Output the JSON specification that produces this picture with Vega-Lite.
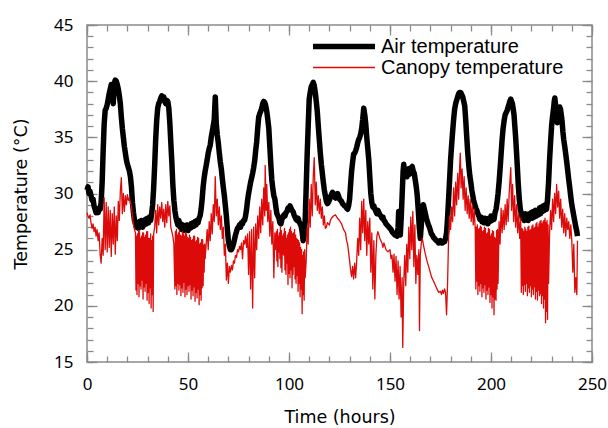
{
"$schema": "https://vega.github.io/schema/vega-lite/v6.json",
"width": 505, "height": 337,
"autosize": {"type": "none"},
"padding": {"left": 87, "top": 25, "right": 16, "bottom": 66},
"background": "white",
"config": {
 "view": {"stroke": "#8a8a8a", "strokeWidth": 1.5},
 "font": "Noto Sans",
 "axis": {"domain": false, "grid": false, "tickColor": "#8a8a8a", "tickWidth": 1.3, "labelColor": "#000", "titleColor": "#000", "labelFont": "Noto Sans", "titleFont": "DejaVu Sans", "labelFontSize": 17, "titleFontSize": 17.5, "titleFontWeight": "normal", "labelFlush": false}
},
"resolve": {"scale": {"x": "independent", "y": "independent"}},
"layer": [
{
 "data": {"values": [
{"t":0,"v":30.3,"s":"A"},{"t":0.5,"v":30.6,"s":"A"},{"t":1,"v":30.0,"s":"A"},{"t":1.5,"v":30.2,"s":"A"},{"t":2,"v":29.8,"s":"A"},{"t":2.5,"v":29.4,"s":"A"},{"t":3,"v":29.5,"s":"A"},{"t":3.5,"v":28.9,"s":"A"},{"t":4,"v":28.6,"s":"A"},{"t":4.5,"v":28.3,"s":"A"},{"t":5,"v":28.5,"s":"A"},{"t":5.5,"v":28.3,"s":"A"},{"t":6,"v":28.7,"s":"A"},{"t":6.5,"v":28.6,"s":"A"},{"t":7,"v":29.2,"s":"A"},{"t":7.5,"v":31.0,"s":"A"},{"t":8,"v":33.8,"s":"A"},{"t":8.5,"v":36.2,"s":"A"},{"t":9,"v":37.4,"s":"A"},{"t":9.5,"v":37.6,"s":"A"},{"t":10,"v":37.9,"s":"A"},{"t":10.5,"v":38.4,"s":"A"},{"t":11,"v":38.9,"s":"A"},{"t":11.5,"v":39.3,"s":"A"},{"t":12,"v":39.7,"s":"A"},{"t":12.5,"v":39.2,"s":"A"},{"t":13,"v":38.0,"s":"A"},{"t":13.5,"v":39.8,"s":"A"},{"t":14,"v":40.1,"s":"A"},{"t":14.5,"v":40.0,"s":"A"},{"t":15,"v":39.7,"s":"A"},{"t":15.5,"v":39.3,"s":"A"},{"t":16,"v":38.7,"s":"A"},{"t":16.5,"v":38.0,"s":"A"},{"t":17,"v":36.8,"s":"A"},{"t":17.5,"v":35.8,"s":"A"},{"t":18,"v":35.0,"s":"A"},{"t":18.5,"v":34.2,"s":"A"},{"t":19,"v":33.6,"s":"A"},{"t":19.5,"v":33.0,"s":"A"},{"t":20,"v":32.6,"s":"A"},{"t":20.5,"v":32.3,"s":"A"},{"t":21,"v":32.0,"s":"A"},{"t":21.5,"v":31.5,"s":"A"},{"t":22,"v":30.6,"s":"A"},{"t":22.5,"v":29.2,"s":"A"},{"t":23,"v":28.3,"s":"A"},{"t":23.5,"v":27.6,"s":"A"},{"t":24,"v":27.3,"s":"A"},{"t":24.5,"v":27.0,"s":"A"},{"t":25,"v":27.4,"s":"A"},{"t":25.5,"v":26.9,"s":"A"},{"t":26,"v":27.5,"s":"A"},{"t":26.5,"v":27.1,"s":"A"},{"t":27,"v":27.6,"s":"A"},{"t":27.5,"v":27.0,"s":"A"},{"t":28,"v":27.5,"s":"A"},{"t":28.5,"v":27.2,"s":"A"},{"t":29,"v":27.7,"s":"A"},{"t":29.5,"v":27.3,"s":"A"},{"t":30,"v":27.8,"s":"A"},{"t":30.5,"v":27.4,"s":"A"},{"t":31,"v":27.9,"s":"A"},{"t":31.5,"v":27.6,"s":"A"},{"t":32,"v":28.2,"s":"A"},{"t":32.5,"v":29.0,"s":"A"},{"t":33,"v":30.5,"s":"A"},{"t":33.5,"v":32.5,"s":"A"},{"t":34,"v":34.8,"s":"A"},{"t":34.5,"v":36.5,"s":"A"},{"t":35,"v":37.6,"s":"A"},{"t":35.5,"v":38.0,"s":"A"},{"t":36,"v":38.2,"s":"A"},{"t":36.5,"v":38.5,"s":"A"},{"t":37,"v":38.7,"s":"A"},{"t":37.5,"v":38.4,"s":"A"},{"t":38,"v":38.6,"s":"A"},{"t":38.5,"v":38.2,"s":"A"},{"t":39,"v":38.0,"s":"A"},{"t":39.5,"v":38.3,"s":"A"},{"t":40,"v":38.2,"s":"A"},{"t":40.5,"v":37.6,"s":"A"},{"t":41,"v":36.3,"s":"A"},{"t":41.5,"v":34.5,"s":"A"},{"t":42,"v":32.8,"s":"A"},{"t":42.5,"v":30.8,"s":"A"},{"t":43,"v":29.4,"s":"A"},{"t":43.5,"v":28.5,"s":"A"},{"t":44,"v":27.9,"s":"A"},{"t":44.5,"v":27.5,"s":"A"},{"t":45,"v":27.2,"s":"A"},{"t":45.5,"v":27.6,"s":"A"},{"t":46,"v":27.0,"s":"A"},{"t":46.5,"v":27.3,"s":"A"},{"t":47,"v":26.8,"s":"A"},{"t":47.5,"v":27.2,"s":"A"},{"t":48,"v":26.7,"s":"A"},{"t":48.5,"v":27.1,"s":"A"},{"t":49,"v":26.8,"s":"A"},{"t":49.5,"v":27.2,"s":"A"},{"t":50,"v":26.7,"s":"A"},{"t":50.5,"v":27.1,"s":"A"},{"t":51,"v":26.9,"s":"A"},{"t":51.5,"v":27.3,"s":"A"},{"t":52,"v":27.0,"s":"A"},{"t":52.5,"v":27.4,"s":"A"},{"t":53,"v":27.1,"s":"A"},{"t":53.5,"v":27.5,"s":"A"},{"t":54,"v":27.2,"s":"A"},{"t":54.5,"v":27.6,"s":"A"},{"t":55,"v":27.4,"s":"A"},{"t":55.5,"v":27.8,"s":"A"},{"t":56,"v":28.0,"s":"A"},{"t":56.5,"v":28.6,"s":"A"},{"t":57,"v":29.5,"s":"A"},{"t":57.5,"v":30.6,"s":"A"},{"t":58,"v":31.4,"s":"A"},{"t":58.5,"v":32.0,"s":"A"},{"t":59,"v":32.5,"s":"A"},{"t":59.5,"v":33.0,"s":"A"},{"t":60,"v":33.6,"s":"A"},{"t":60.5,"v":34.0,"s":"A"},{"t":61,"v":34.3,"s":"A"},{"t":61.5,"v":35.0,"s":"A"},{"t":62,"v":35.5,"s":"A"},{"t":62.5,"v":36.0,"s":"A"},{"t":63,"v":36.6,"s":"A"},{"t":63.5,"v":38.6,"s":"A"},{"t":64,"v":36.2,"s":"A"},{"t":64.5,"v":35.2,"s":"A"},{"t":65,"v":34.5,"s":"A"},{"t":65.5,"v":33.6,"s":"A"},{"t":66,"v":32.8,"s":"A"},{"t":66.5,"v":32.2,"s":"A"},{"t":67,"v":31.3,"s":"A"},{"t":67.5,"v":30.5,"s":"A"},{"t":68,"v":29.8,"s":"A"},{"t":68.5,"v":28.9,"s":"A"},{"t":69,"v":28.0,"s":"A"},{"t":69.5,"v":26.8,"s":"A"},{"t":70,"v":25.8,"s":"A"},{"t":70.5,"v":25.3,"s":"A"},{"t":71,"v":25.0,"s":"A"},{"t":71.5,"v":25.0,"s":"A"},{"t":72,"v":25.2,"s":"A"},{"t":72.5,"v":25.5,"s":"A"},{"t":73,"v":25.9,"s":"A"},{"t":73.5,"v":26.3,"s":"A"},{"t":74,"v":26.6,"s":"A"},{"t":74.5,"v":26.9,"s":"A"},{"t":75,"v":27.0,"s":"A"},{"t":75.5,"v":27.2,"s":"A"},{"t":76,"v":27.0,"s":"A"},{"t":76.5,"v":27.4,"s":"A"},{"t":77,"v":27.3,"s":"A"},{"t":77.5,"v":27.6,"s":"A"},{"t":78,"v":27.6,"s":"A"},{"t":78.5,"v":28.0,"s":"A"},{"t":79,"v":28.6,"s":"A"},{"t":79.5,"v":29.4,"s":"A"},{"t":80,"v":30.0,"s":"A"},{"t":80.5,"v":30.5,"s":"A"},{"t":81,"v":31.0,"s":"A"},{"t":81.5,"v":31.4,"s":"A"},{"t":82,"v":31.8,"s":"A"},{"t":82.5,"v":32.3,"s":"A"},{"t":83,"v":32.9,"s":"A"},{"t":83.5,"v":33.8,"s":"A"},{"t":84,"v":34.6,"s":"A"},{"t":84.5,"v":35.8,"s":"A"},{"t":85,"v":36.8,"s":"A"},{"t":85.5,"v":37.1,"s":"A"},{"t":86,"v":37.3,"s":"A"},{"t":86.5,"v":37.6,"s":"A"},{"t":87,"v":38.0,"s":"A"},{"t":87.5,"v":38.2,"s":"A"},{"t":88,"v":38.1,"s":"A"},{"t":88.5,"v":37.8,"s":"A"},{"t":89,"v":37.3,"s":"A"},{"t":89.5,"v":36.6,"s":"A"},{"t":90,"v":35.8,"s":"A"},{"t":90.5,"v":34.2,"s":"A"},{"t":91,"v":32.6,"s":"A"},{"t":91.5,"v":31.2,"s":"A"},{"t":92,"v":30.4,"s":"A"},{"t":92.5,"v":29.8,"s":"A"},{"t":93,"v":29.5,"s":"A"},{"t":93.5,"v":28.8,"s":"A"},{"t":94,"v":28.2,"s":"A"},{"t":94.5,"v":28.0,"s":"A"},{"t":95,"v":27.8,"s":"A"},{"t":95.5,"v":27.4,"s":"A"},{"t":96,"v":27.3,"s":"A"},{"t":96.5,"v":27.7,"s":"A"},{"t":97,"v":27.9,"s":"A"},{"t":97.5,"v":28.1,"s":"A"},{"t":98,"v":28.0,"s":"A"},{"t":98.5,"v":28.3,"s":"A"},{"t":99,"v":28.4,"s":"A"},{"t":99.5,"v":28.7,"s":"A"},{"t":100,"v":28.6,"s":"A"},{"t":100.5,"v":28.9,"s":"A"},{"t":101,"v":28.7,"s":"A"},{"t":101.5,"v":28.5,"s":"A"},{"t":102,"v":28.4,"s":"A"},{"t":102.5,"v":28.1,"s":"A"},{"t":103,"v":27.9,"s":"A"},{"t":103.5,"v":27.7,"s":"A"},{"t":104,"v":27.6,"s":"A"},{"t":104.5,"v":27.8,"s":"A"},{"t":105,"v":27.5,"s":"A"},{"t":105.5,"v":27.3,"s":"A"},{"t":106,"v":27.1,"s":"A"},{"t":106.5,"v":26.6,"s":"A"},{"t":107,"v":25.8,"s":"A"},{"t":107.5,"v":26.2,"s":"A"},{"t":108,"v":27.5,"s":"A"},{"t":108.5,"v":30.5,"s":"A"},{"t":109,"v":33.5,"s":"A"},{"t":109.5,"v":36.0,"s":"A"},{"t":110,"v":38.4,"s":"A"},{"t":110.5,"v":39.0,"s":"A"},{"t":111,"v":39.5,"s":"A"},{"t":111.5,"v":39.7,"s":"A"},{"t":112,"v":39.9,"s":"A"},{"t":112.5,"v":39.6,"s":"A"},{"t":113,"v":39.0,"s":"A"},{"t":113.5,"v":38.2,"s":"A"},{"t":114,"v":37.3,"s":"A"},{"t":114.5,"v":36.0,"s":"A"},{"t":115,"v":34.8,"s":"A"},{"t":115.5,"v":33.6,"s":"A"},{"t":116,"v":32.6,"s":"A"},{"t":116.5,"v":31.8,"s":"A"},{"t":117,"v":31.0,"s":"A"},{"t":117.5,"v":30.3,"s":"A"},{"t":118,"v":29.8,"s":"A"},{"t":118.5,"v":29.3,"s":"A"},{"t":119,"v":29.1,"s":"A"},{"t":119.5,"v":29.2,"s":"A"},{"t":120,"v":29.4,"s":"A"},{"t":120.5,"v":29.7,"s":"A"},{"t":121,"v":29.9,"s":"A"},{"t":121.5,"v":30.1,"s":"A"},{"t":122,"v":30.0,"s":"A"},{"t":122.5,"v":29.7,"s":"A"},{"t":123,"v":29.6,"s":"A"},{"t":123.5,"v":29.8,"s":"A"},{"t":124,"v":30.0,"s":"A"},{"t":124.5,"v":29.8,"s":"A"},{"t":125,"v":29.5,"s":"A"},{"t":125.5,"v":29.4,"s":"A"},{"t":126,"v":29.3,"s":"A"},{"t":126.5,"v":29.1,"s":"A"},{"t":127,"v":29.0,"s":"A"},{"t":127.5,"v":28.9,"s":"A"},{"t":128,"v":28.9,"s":"A"},{"t":128.5,"v":28.7,"s":"A"},{"t":129,"v":28.6,"s":"A"},{"t":129.5,"v":28.9,"s":"A"},{"t":130,"v":29.5,"s":"A"},{"t":130.5,"v":30.8,"s":"A"},{"t":131,"v":32.0,"s":"A"},{"t":131.5,"v":32.8,"s":"A"},{"t":132,"v":33.5,"s":"A"},{"t":132.5,"v":33.6,"s":"A"},{"t":133,"v":33.8,"s":"A"},{"t":133.5,"v":34.1,"s":"A"},{"t":134,"v":34.5,"s":"A"},{"t":134.5,"v":34.8,"s":"A"},{"t":135,"v":35.0,"s":"A"},{"t":135.5,"v":35.3,"s":"A"},{"t":136,"v":35.8,"s":"A"},{"t":136.5,"v":36.6,"s":"A"},{"t":137,"v":37.6,"s":"A"},{"t":137.5,"v":37.0,"s":"A"},{"t":138,"v":36.2,"s":"A"},{"t":138.5,"v":35.0,"s":"A"},{"t":139,"v":34.0,"s":"A"},{"t":139.5,"v":33.0,"s":"A"},{"t":140,"v":31.5,"s":"A"},{"t":140.5,"v":30.0,"s":"A"},{"t":141,"v":29.2,"s":"A"},{"t":141.5,"v":28.8,"s":"A"},{"t":142,"v":28.9,"s":"A"},{"t":142.5,"v":28.6,"s":"A"},{"t":143,"v":28.4,"s":"A"},{"t":143.5,"v":28.2,"s":"A"},{"t":144,"v":28.5,"s":"A"},{"t":144.5,"v":28.3,"s":"A"},{"t":145,"v":28.1,"s":"A"},{"t":145.5,"v":28.0,"s":"A"},{"t":146,"v":27.8,"s":"A"},{"t":146.5,"v":27.9,"s":"A"},{"t":147,"v":27.6,"s":"A"},{"t":147.5,"v":27.5,"s":"A"},{"t":148,"v":27.3,"s":"A"},{"t":148.5,"v":27.2,"s":"A"},{"t":149,"v":27.1,"s":"A"},{"t":149.5,"v":27.0,"s":"A"},{"t":150,"v":26.9,"s":"A"},{"t":150.5,"v":26.8,"s":"A"},{"t":151,"v":26.6,"s":"A"},{"t":151.5,"v":26.5,"s":"A"},{"t":152,"v":26.4,"s":"A"},{"t":152.5,"v":26.3,"s":"A"},{"t":153,"v":26.3,"s":"A"},{"t":153.5,"v":26.2,"s":"A"},{"t":154,"v":27.0,"s":"A"},{"t":154.3,"v":28.4,"s":"A"},{"t":154.7,"v":27.0,"s":"A"},{"t":155.1,"v":26.3,"s":"A"},{"t":155.6,"v":28.0,"s":"A"},{"t":156,"v":29.8,"s":"A"},{"t":156.5,"v":32.0,"s":"A"},{"t":156.8,"v":32.6,"s":"A"},{"t":157.2,"v":31.8,"s":"A"},{"t":157.6,"v":32.2,"s":"A"},{"t":158,"v":31.6,"s":"A"},{"t":158.4,"v":31.5,"s":"A"},{"t":158.8,"v":31.9,"s":"A"},{"t":159.2,"v":32.2,"s":"A"},{"t":159.6,"v":31.7,"s":"A"},{"t":160,"v":31.9,"s":"A"},{"t":160.5,"v":32.3,"s":"A"},{"t":161,"v":32.4,"s":"A"},{"t":161.5,"v":32.0,"s":"A"},{"t":162,"v":31.8,"s":"A"},{"t":162.5,"v":31.2,"s":"A"},{"t":163,"v":30.6,"s":"A"},{"t":163.5,"v":29.8,"s":"A"},{"t":164,"v":28.5,"s":"A"},{"t":164.5,"v":27.0,"s":"A"},{"t":165,"v":26.0,"s":"A"},{"t":165.5,"v":27.2,"s":"A"},{"t":166,"v":28.5,"s":"A"},{"t":166.5,"v":29.0,"s":"A"},{"t":167,"v":28.6,"s":"A"},{"t":167.5,"v":28.2,"s":"A"},{"t":168,"v":27.8,"s":"A"},{"t":168.5,"v":27.5,"s":"A"},{"t":169,"v":27.2,"s":"A"},{"t":169.5,"v":27.0,"s":"A"},{"t":170,"v":26.7,"s":"A"},{"t":170.5,"v":26.4,"s":"A"},{"t":171,"v":26.3,"s":"A"},{"t":171.5,"v":26.1,"s":"A"},{"t":172,"v":26.0,"s":"A"},{"t":172.5,"v":25.9,"s":"A"},{"t":173,"v":25.8,"s":"A"},{"t":173.5,"v":25.8,"s":"A"},{"t":174,"v":25.6,"s":"A"},{"t":174.5,"v":25.7,"s":"A"},{"t":175,"v":25.8,"s":"A"},{"t":175.5,"v":25.6,"s":"A"},{"t":176,"v":25.6,"s":"A"},{"t":176.5,"v":25.7,"s":"A"},{"t":177,"v":25.7,"s":"A"},{"t":177.5,"v":26.0,"s":"A"},{"t":178,"v":26.5,"s":"A"},{"t":178.5,"v":27.8,"s":"A"},{"t":179,"v":29.5,"s":"A"},{"t":179.5,"v":31.2,"s":"A"},{"t":180,"v":33.0,"s":"A"},{"t":180.5,"v":34.3,"s":"A"},{"t":181,"v":35.5,"s":"A"},{"t":181.5,"v":36.6,"s":"A"},{"t":182,"v":37.5,"s":"A"},{"t":182.5,"v":38.0,"s":"A"},{"t":183,"v":38.3,"s":"A"},{"t":183.5,"v":38.6,"s":"A"},{"t":184,"v":38.9,"s":"A"},{"t":184.5,"v":39.0,"s":"A"},{"t":185,"v":39.0,"s":"A"},{"t":185.5,"v":38.8,"s":"A"},{"t":186,"v":38.6,"s":"A"},{"t":186.5,"v":38.2,"s":"A"},{"t":187,"v":37.8,"s":"A"},{"t":187.5,"v":36.5,"s":"A"},{"t":188,"v":35.0,"s":"A"},{"t":188.5,"v":33.6,"s":"A"},{"t":189,"v":32.5,"s":"A"},{"t":189.5,"v":31.6,"s":"A"},{"t":190,"v":31.0,"s":"A"},{"t":190.5,"v":30.3,"s":"A"},{"t":191,"v":29.8,"s":"A"},{"t":191.5,"v":29.3,"s":"A"},{"t":192,"v":29.0,"s":"A"},{"t":192.5,"v":28.7,"s":"A"},{"t":193,"v":28.5,"s":"A"},{"t":193.5,"v":28.2,"s":"A"},{"t":194,"v":28.0,"s":"A"},{"t":194.5,"v":27.7,"s":"A"},{"t":195,"v":27.9,"s":"A"},{"t":195.5,"v":27.5,"s":"A"},{"t":196,"v":27.8,"s":"A"},{"t":196.5,"v":27.4,"s":"A"},{"t":197,"v":27.8,"s":"A"},{"t":197.5,"v":27.4,"s":"A"},{"t":198,"v":27.7,"s":"A"},{"t":198.5,"v":27.3,"s":"A"},{"t":199,"v":27.8,"s":"A"},{"t":199.5,"v":27.5,"s":"A"},{"t":200,"v":28.0,"s":"A"},{"t":200.5,"v":27.6,"s":"A"},{"t":201,"v":28.0,"s":"A"},{"t":201.5,"v":27.7,"s":"A"},{"t":202,"v":28.3,"s":"A"},{"t":202.5,"v":28.6,"s":"A"},{"t":203,"v":29.2,"s":"A"},{"t":203.5,"v":30.0,"s":"A"},{"t":204,"v":31.0,"s":"A"},{"t":204.5,"v":32.2,"s":"A"},{"t":205,"v":33.5,"s":"A"},{"t":205.5,"v":34.8,"s":"A"},{"t":206,"v":35.8,"s":"A"},{"t":206.5,"v":36.5,"s":"A"},{"t":207,"v":37.0,"s":"A"},{"t":207.5,"v":37.2,"s":"A"},{"t":208,"v":37.4,"s":"A"},{"t":208.5,"v":37.7,"s":"A"},{"t":209,"v":38.0,"s":"A"},{"t":209.5,"v":38.3,"s":"A"},{"t":209.8,"v":38.4,"s":"A"},{"t":210.2,"v":38.2,"s":"A"},{"t":210.6,"v":38.0,"s":"A"},{"t":211,"v":37.5,"s":"A"},{"t":211.4,"v":37.0,"s":"A"},{"t":211.8,"v":36.0,"s":"A"},{"t":212.2,"v":35.0,"s":"A"},{"t":212.6,"v":33.8,"s":"A"},{"t":213,"v":32.5,"s":"A"},{"t":213.5,"v":30.8,"s":"A"},{"t":214,"v":29.5,"s":"A"},{"t":214.5,"v":28.6,"s":"A"},{"t":215,"v":28.2,"s":"A"},{"t":215.5,"v":27.8,"s":"A"},{"t":216,"v":28.1,"s":"A"},{"t":216.5,"v":27.6,"s":"A"},{"t":217,"v":28.2,"s":"A"},{"t":217.5,"v":27.7,"s":"A"},{"t":218,"v":28.1,"s":"A"},{"t":218.5,"v":27.6,"s":"A"},{"t":219,"v":28.2,"s":"A"},{"t":219.5,"v":27.8,"s":"A"},{"t":220,"v":28.3,"s":"A"},{"t":220.5,"v":27.8,"s":"A"},{"t":221,"v":28.4,"s":"A"},{"t":221.5,"v":27.9,"s":"A"},{"t":222,"v":28.5,"s":"A"},{"t":222.5,"v":28.0,"s":"A"},{"t":223,"v":28.5,"s":"A"},{"t":223.5,"v":28.1,"s":"A"},{"t":224,"v":28.7,"s":"A"},{"t":224.5,"v":28.2,"s":"A"},{"t":225,"v":28.8,"s":"A"},{"t":225.5,"v":28.4,"s":"A"},{"t":226,"v":28.9,"s":"A"},{"t":226.5,"v":28.5,"s":"A"},{"t":227,"v":29.0,"s":"A"},{"t":227.5,"v":28.6,"s":"A"},{"t":228,"v":29.5,"s":"A"},{"t":228.5,"v":31.0,"s":"A"},{"t":229,"v":33.0,"s":"A"},{"t":229.5,"v":34.6,"s":"A"},{"t":230,"v":36.0,"s":"A"},{"t":230.5,"v":36.9,"s":"A"},{"t":231,"v":37.6,"s":"A"},{"t":231.3,"v":38.2,"s":"A"},{"t":231.6,"v":38.5,"s":"A"},{"t":232,"v":37.8,"s":"A"},{"t":232.4,"v":36.8,"s":"A"},{"t":232.8,"v":36.3,"s":"A"},{"t":233.2,"v":37.0,"s":"A"},{"t":233.6,"v":37.4,"s":"A"},{"t":234,"v":37.7,"s":"A"},{"t":234.4,"v":37.5,"s":"A"},{"t":234.8,"v":37.0,"s":"A"},{"t":235.2,"v":36.4,"s":"A"},{"t":235.6,"v":35.5,"s":"A"},{"t":236,"v":34.8,"s":"A"},{"t":236.5,"v":34.2,"s":"A"},{"t":237,"v":33.5,"s":"A"},{"t":237.5,"v":32.8,"s":"A"},{"t":238,"v":32.0,"s":"A"},{"t":238.5,"v":31.2,"s":"A"},{"t":239,"v":30.5,"s":"A"},{"t":239.5,"v":29.7,"s":"A"},{"t":240,"v":29.0,"s":"A"},{"t":240.5,"v":28.5,"s":"A"},{"t":241,"v":28.0,"s":"A"},{"t":241.5,"v":27.5,"s":"A"},{"t":242,"v":27.0,"s":"A"},{"t":242.5,"v":26.6,"s":"A"},{"t":242.8,"v":26.2,"s":"A"},
{"t":0,"v":28.3,"s":"C"},{"t":0.5,"v":28.0,"s":"C"},{"t":1,"v":27.8,"s":"C"},{"t":1.5,"v":28.1,"s":"C"},{"t":2,"v":27.4,"s":"C"},{"t":2.5,"v":26.9,"s":"C"},{"t":3,"v":27.3,"s":"C"},{"t":3.5,"v":26.6,"s":"C"},{"t":4,"v":27.0,"s":"C"},{"t":4.5,"v":26.2,"s":"C"},{"t":5,"v":26.8,"s":"C"},{"t":5.5,"v":25.8,"s":"C"},{"t":6,"v":26.5,"s":"C"},{"t":6.5,"v":24.6,"s":"C"},{"t":7,"v":23.8,"s":"C"},{"t":7.5,"v":26.0,"s":"C"},{"t":8,"v":24.5,"s":"C"},{"t":8.5,"v":29.6,"s":"C"},{"t":9,"v":25.0,"s":"C"},{"t":9.5,"v":29.2,"s":"C"},{"t":10,"v":24.8,"s":"C"},{"t":10.5,"v":28.8,"s":"C"},{"t":11,"v":25.2,"s":"C"},{"t":11.5,"v":28.5,"s":"C"},{"t":12,"v":24.4,"s":"C"},{"t":12.5,"v":28.2,"s":"C"},{"t":13,"v":25.5,"s":"C"},{"t":13.5,"v":28.8,"s":"C"},{"t":14,"v":24.6,"s":"C"},{"t":14.5,"v":28.0,"s":"C"},{"t":15,"v":25.8,"s":"C"},{"t":15.5,"v":29.3,"s":"C"},{"t":16,"v":27.6,"s":"C"},{"t":16.5,"v":30.2,"s":"C"},{"t":17,"v":31.4,"s":"C"},{"t":17.5,"v":28.2,"s":"C"},{"t":18,"v":30.0,"s":"C"},{"t":18.5,"v":28.4,"s":"C"},{"t":19,"v":29.8,"s":"C"},{"t":19.5,"v":29.0,"s":"C"},{"t":20,"v":29.9,"s":"C"},{"t":20.5,"v":29.4,"s":"C"},{"t":21,"v":29.6,"s":"C"},{"t":21.5,"v":29.2,"s":"C"},{"t":22,"v":28.8,"s":"C"},{"t":22.5,"v":28.0,"s":"C"},{"t":23,"v":27.2,"s":"C"},{"t":23.5,"v":26.8,"s":"C"},
{"t":24,"v":26.5,"s":"C"},{"t":24.25,"v":21.4,"s":"C"},{"t":24.5,"v":26.2,"s":"C"},{"t":24.75,"v":21.0,"s":"C"},{"t":25,"v":26.4,"s":"C"},{"t":25.25,"v":22.0,"s":"C"},{"t":25.5,"v":26.7,"s":"C"},{"t":25.75,"v":20.8,"s":"C"},{"t":26,"v":26.6,"s":"C"},{"t":26.25,"v":21.8,"s":"C"},{"t":26.5,"v":26.0,"s":"C"},{"t":26.75,"v":21.5,"s":"C"},{"t":27,"v":26.2,"s":"C"},{"t":27.25,"v":22.3,"s":"C"},{"t":27.5,"v":26.5,"s":"C"},{"t":27.75,"v":20.6,"s":"C"},{"t":28,"v":26.5,"s":"C"},{"t":28.25,"v":21.7,"s":"C"},{"t":28.5,"v":26.1,"s":"C"},{"t":28.75,"v":21.3,"s":"C"},{"t":29,"v":26.3,"s":"C"},{"t":29.25,"v":22.0,"s":"C"},{"t":29.5,"v":26.6,"s":"C"},{"t":29.75,"v":20.5,"s":"C"},{"t":30,"v":26.6,"s":"C"},{"t":30.25,"v":21.2,"s":"C"},{"t":30.5,"v":26.0,"s":"C"},{"t":30.75,"v":20.2,"s":"C"},{"t":31,"v":26.0,"s":"C"},{"t":31.25,"v":21.6,"s":"C"},{"t":31.5,"v":26.4,"s":"C"},{"t":31.75,"v":19.8,"s":"C"},{"t":32,"v":25.8,"s":"C"},{"t":32.25,"v":21.0,"s":"C"},{"t":32.5,"v":26.2,"s":"C"},{"t":32.75,"v":19.5,"s":"C"},{"t":33,"v":26.4,"s":"C"},
{"t":33.5,"v":27.0,"s":"C"},{"t":34,"v":28.5,"s":"C"},{"t":34.5,"v":26.5,"s":"C"},{"t":35,"v":29.0,"s":"C"},{"t":35.5,"v":27.2,"s":"C"},{"t":36,"v":28.8,"s":"C"},{"t":36.5,"v":27.8,"s":"C"},{"t":37,"v":29.2,"s":"C"},{"t":37.5,"v":27.5,"s":"C"},{"t":38,"v":28.6,"s":"C"},{"t":38.5,"v":27.0,"s":"C"},{"t":39,"v":29.0,"s":"C"},{"t":39.5,"v":27.4,"s":"C"},{"t":40,"v":29.3,"s":"C"},{"t":40.5,"v":28.0,"s":"C"},{"t":41,"v":28.9,"s":"C"},{"t":41.5,"v":27.0,"s":"C"},{"t":42,"v":26.6,"s":"C"},{"t":42.5,"v":26.2,"s":"C"},{"t":43,"v":25.5,"s":"C"},
{"t":43.5,"v":21.5,"s":"C"},{"t":43.75,"v":26.6,"s":"C"},{"t":44,"v":21.8,"s":"C"},{"t":44.25,"v":26.8,"s":"C"},{"t":44.5,"v":21.0,"s":"C"},{"t":44.75,"v":26.3,"s":"C"},{"t":45,"v":22.0,"s":"C"},{"t":45.25,"v":26.5,"s":"C"},{"t":45.5,"v":21.4,"s":"C"},{"t":45.75,"v":26.7,"s":"C"},{"t":46,"v":21.9,"s":"C"},{"t":46.25,"v":26.3,"s":"C"},{"t":46.5,"v":20.9,"s":"C"},{"t":46.75,"v":26.2,"s":"C"},{"t":47,"v":21.6,"s":"C"},{"t":47.25,"v":26.6,"s":"C"},{"t":47.5,"v":21.2,"s":"C"},{"t":47.75,"v":26.4,"s":"C"},{"t":48,"v":22.1,"s":"C"},{"t":48.25,"v":26.2,"s":"C"},{"t":48.5,"v":20.8,"s":"C"},{"t":48.75,"v":26.5,"s":"C"},{"t":49,"v":21.5,"s":"C"},{"t":49.25,"v":26.4,"s":"C"},{"t":49.5,"v":21.0,"s":"C"},{"t":49.75,"v":26.1,"s":"C"},{"t":50,"v":21.8,"s":"C"},{"t":50.25,"v":26.0,"s":"C"},{"t":50.5,"v":21.3,"s":"C"},{"t":50.75,"v":26.3,"s":"C"},{"t":51,"v":21.9,"s":"C"},{"t":51.25,"v":26.1,"s":"C"},{"t":51.5,"v":20.6,"s":"C"},{"t":51.75,"v":25.8,"s":"C"},{"t":52,"v":21.4,"s":"C"},{"t":52.25,"v":25.9,"s":"C"},{"t":52.5,"v":20.9,"s":"C"},{"t":52.75,"v":26.2,"s":"C"},{"t":53,"v":21.7,"s":"C"},{"t":53.25,"v":26.2,"s":"C"},{"t":53.5,"v":20.4,"s":"C"},{"t":53.75,"v":25.7,"s":"C"},{"t":54,"v":21.2,"s":"C"},{"t":54.25,"v":25.8,"s":"C"},{"t":54.5,"v":20.7,"s":"C"},{"t":54.75,"v":26.1,"s":"C"},{"t":55,"v":21.5,"s":"C"},{"t":55.25,"v":26.0,"s":"C"},{"t":55.5,"v":20.1,"s":"C"},{"t":55.75,"v":25.5,"s":"C"},{"t":56,"v":21.0,"s":"C"},{"t":56.25,"v":25.6,"s":"C"},{"t":56.5,"v":20.5,"s":"C"},{"t":56.75,"v":25.9,"s":"C"},{"t":57,"v":21.6,"s":"C"},{"t":57.25,"v":25.9,"s":"C"},{"t":57.5,"v":21.8,"s":"C"},{"t":57.75,"v":25.4,"s":"C"},{"t":58,"v":23.0,"s":"C"},{"t":58.25,"v":25.5,"s":"C"},
{"t":58.5,"v":24.2,"s":"C"},{"t":59,"v":25.5,"s":"C"},{"t":59.5,"v":26.8,"s":"C"},{"t":60,"v":25.0,"s":"C"},{"t":60.5,"v":27.5,"s":"C"},{"t":61,"v":25.8,"s":"C"},{"t":61.5,"v":28.2,"s":"C"},{"t":62,"v":26.4,"s":"C"},{"t":62.5,"v":29.0,"s":"C"},{"t":63,"v":27.5,"s":"C"},{"t":63.5,"v":31.5,"s":"C"},{"t":64,"v":28.0,"s":"C"},{"t":64.5,"v":29.5,"s":"C"},{"t":65,"v":27.2,"s":"C"},{"t":65.5,"v":28.8,"s":"C"},{"t":66,"v":26.8,"s":"C"},{"t":66.5,"v":28.0,"s":"C"},{"t":67,"v":26.0,"s":"C"},{"t":67.5,"v":27.0,"s":"C"},{"t":68,"v":24.5,"s":"C"},{"t":68.5,"v":25.5,"s":"C"},{"t":69,"v":22.3,"s":"C"},{"t":69.5,"v":23.8,"s":"C"},{"t":70,"v":22.0,"s":"C"},{"t":70.5,"v":23.5,"s":"C"},{"t":71,"v":23.0,"s":"C"},
{"t":71.5,"v":23.6,"s":"C"},{"t":72,"v":23.2,"s":"C"},{"t":72.5,"v":24.0,"s":"C"},{"t":73,"v":23.8,"s":"C"},{"t":73.5,"v":24.5,"s":"C"},{"t":74,"v":24.3,"s":"C"},{"t":74.5,"v":25.0,"s":"C"},{"t":75,"v":24.8,"s":"C"},{"t":75.5,"v":25.3,"s":"C"},{"t":76,"v":25.0,"s":"C"},{"t":76.5,"v":25.6,"s":"C"},{"t":77,"v":24.2,"s":"C"},{"t":77.5,"v":25.8,"s":"C"},{"t":78,"v":25.5,"s":"C"},{"t":78.5,"v":26.2,"s":"C"},{"t":79,"v":25.2,"s":"C"},{"t":79.5,"v":26.4,"s":"C"},{"t":80,"v":22.8,"s":"C"},{"t":80.5,"v":26.6,"s":"C"},{"t":81,"v":21.5,"s":"C"},{"t":81.5,"v":26.8,"s":"C"},{"t":82,"v":19.8,"s":"C"},{"t":82.5,"v":27.0,"s":"C"},{"t":83,"v":22.5,"s":"C"},{"t":83.5,"v":27.3,"s":"C"},{"t":84,"v":25.0,"s":"C"},{"t":84.5,"v":28.0,"s":"C"},
{"t":85,"v":26.0,"s":"C"},{"t":85.5,"v":28.8,"s":"C"},{"t":86,"v":26.5,"s":"C"},{"t":86.5,"v":29.5,"s":"C"},{"t":87,"v":27.2,"s":"C"},{"t":87.5,"v":30.5,"s":"C"},{"t":88,"v":28.0,"s":"C"},{"t":88.2,"v":32.5,"s":"C"},{"t":88.7,"v":28.5,"s":"C"},{"t":89,"v":30.8,"s":"C"},{"t":89.5,"v":27.5,"s":"C"},{"t":90,"v":29.2,"s":"C"},{"t":90.5,"v":26.2,"s":"C"},{"t":91,"v":28.5,"s":"C"},{"t":91.5,"v":25.5,"s":"C"},{"t":92,"v":27.5,"s":"C"},{"t":92.5,"v":22.5,"s":"C"},{"t":93,"v":26.5,"s":"C"},
{"t":93.5,"v":25.0,"s":"C"},{"t":93.75,"v":26.6,"s":"C"},{"t":94,"v":24.0,"s":"C"},{"t":94.25,"v":26.8,"s":"C"},{"t":94.5,"v":23.5,"s":"C"},{"t":94.75,"v":26.2,"s":"C"},{"t":95,"v":24.8,"s":"C"},{"t":95.25,"v":26.5,"s":"C"},{"t":95.5,"v":24.2,"s":"C"},{"t":95.75,"v":27.0,"s":"C"},{"t":96,"v":23.4,"s":"C"},{"t":96.25,"v":26.7,"s":"C"},{"t":96.5,"v":23.0,"s":"C"},{"t":96.75,"v":26.2,"s":"C"},{"t":97,"v":24.6,"s":"C"},{"t":97.25,"v":26.4,"s":"C"},{"t":97.5,"v":24.5,"s":"C"},{"t":97.75,"v":26.9,"s":"C"},{"t":98,"v":23.2,"s":"C"},{"t":98.25,"v":26.6,"s":"C"},{"t":98.5,"v":22.8,"s":"C"},{"t":98.75,"v":26.0,"s":"C"},{"t":99,"v":23.8,"s":"C"},{"t":99.25,"v":26.3,"s":"C"},{"t":99.5,"v":21.9,"s":"C"},{"t":99.75,"v":26.5,"s":"C"},{"t":100,"v":22.9,"s":"C"},{"t":100.25,"v":26.8,"s":"C"},{"t":100.5,"v":22.5,"s":"C"},{"t":100.75,"v":27.0,"s":"C"},{"t":101,"v":23.2,"s":"C"},{"t":101.25,"v":26.6,"s":"C"},{"t":101.5,"v":21.6,"s":"C"},{"t":101.75,"v":26.4,"s":"C"},{"t":102,"v":22.8,"s":"C"},{"t":102.25,"v":26.5,"s":"C"},{"t":102.5,"v":23.5,"s":"C"},{"t":102.75,"v":26.8,"s":"C"},{"t":103,"v":22.4,"s":"C"},{"t":103.25,"v":26.3,"s":"C"},{"t":103.5,"v":22.0,"s":"C"},{"t":103.75,"v":26.0,"s":"C"},{"t":104,"v":22.7,"s":"C"},{"t":104.25,"v":25.9,"s":"C"},{"t":104.5,"v":21.3,"s":"C"},{"t":104.75,"v":25.8,"s":"C"},{"t":105,"v":22.0,"s":"C"},{"t":105.25,"v":25.6,"s":"C"},{"t":105.5,"v":20.8,"s":"C"},{"t":105.75,"v":25.2,"s":"C"},{"t":106,"v":21.5,"s":"C"},{"t":106.25,"v":25.0,"s":"C"},{"t":106.5,"v":19.3,"s":"C"},{"t":106.75,"v":24.5,"s":"C"},{"t":107,"v":21.0,"s":"C"},{"t":107.25,"v":24.8,"s":"C"},{"t":107.5,"v":20.5,"s":"C"},{"t":107.75,"v":25.0,"s":"C"},{"t":108,"v":22.5,"s":"C"},
{"t":108.5,"v":24.0,"s":"C"},{"t":109,"v":27.0,"s":"C"},{"t":109.5,"v":25.5,"s":"C"},{"t":110,"v":29.5,"s":"C"},{"t":110.5,"v":27.0,"s":"C"},{"t":111,"v":30.8,"s":"C"},{"t":111.5,"v":28.0,"s":"C"},{"t":112,"v":31.5,"s":"C"},{"t":112.5,"v":33.2,"s":"C"},{"t":113,"v":29.0,"s":"C"},{"t":113.5,"v":31.0,"s":"C"},{"t":114,"v":28.5,"s":"C"},{"t":114.5,"v":29.8,"s":"C"},{"t":115,"v":28.2,"s":"C"},{"t":115.5,"v":29.5,"s":"C"},{"t":116,"v":27.8,"s":"C"},{"t":116.5,"v":28.8,"s":"C"},{"t":117,"v":27.2,"s":"C"},{"t":117.5,"v":28.0,"s":"C"},{"t":118,"v":26.9,"s":"C"},
{"t":118.5,"v":27.0,"s":"C"},{"t":119,"v":27.4,"s":"C"},{"t":120,"v":27.2,"s":"C"},{"t":120.5,"v":27.6,"s":"C"},{"t":121,"v":27.8,"s":"C"},{"t":122,"v":28.0,"s":"C"},{"t":123,"v":28.1,"s":"C"},{"t":124,"v":27.8,"s":"C"},{"t":125,"v":27.6,"s":"C"},{"t":126,"v":27.3,"s":"C"},{"t":127,"v":26.8,"s":"C"},{"t":128,"v":26.5,"s":"C"},{"t":128.5,"v":25.8,"s":"C"},{"t":129,"v":25.5,"s":"C"},{"t":129.5,"v":24.8,"s":"C"},{"t":130,"v":24.0,"s":"C"},{"t":130.5,"v":23.2,"s":"C"},{"t":131,"v":22.6,"s":"C"},{"t":131.5,"v":23.5,"s":"C"},{"t":132,"v":22.4,"s":"C"},{"t":132.5,"v":23.8,"s":"C"},{"t":133,"v":22.5,"s":"C"},{"t":133.5,"v":24.0,"s":"C"},
{"t":134,"v":26.0,"s":"C"},{"t":134.5,"v":24.5,"s":"C"},{"t":135,"v":27.8,"s":"C"},{"t":135.5,"v":25.0,"s":"C"},{"t":136,"v":29.3,"s":"C"},{"t":136.5,"v":26.5,"s":"C"},{"t":137,"v":29.5,"s":"C"},{"t":137.5,"v":25.8,"s":"C"},{"t":138,"v":28.5,"s":"C"},{"t":138.5,"v":24.5,"s":"C"},{"t":139,"v":27.5,"s":"C"},{"t":139.5,"v":25.5,"s":"C"},{"t":140,"v":27.8,"s":"C"},{"t":140.5,"v":23.0,"s":"C"},{"t":141,"v":26.5,"s":"C"},{"t":141.5,"v":21.5,"s":"C"},{"t":142,"v":25.8,"s":"C"},{"t":142.5,"v":20.6,"s":"C"},{"t":143,"v":24.5,"s":"C"},{"t":143.5,"v":26.2,"s":"C"},{"t":144,"v":26.6,"s":"C"},{"t":145,"v":26.0,"s":"C"},{"t":146,"v":25.6,"s":"C"},{"t":146.5,"v":25.2,"s":"C"},{"t":147,"v":25.6,"s":"C"},{"t":148,"v":25.0,"s":"C"},{"t":149,"v":24.8,"s":"C"},{"t":150,"v":25.0,"s":"C"},{"t":150.5,"v":24.2,"s":"C"},{"t":151,"v":24.5,"s":"C"},
{"t":151.5,"v":23.0,"s":"C"},{"t":152,"v":24.6,"s":"C"},{"t":152.5,"v":22.2,"s":"C"},{"t":153,"v":24.4,"s":"C"},{"t":153.5,"v":21.0,"s":"C"},{"t":154,"v":24.0,"s":"C"},{"t":154.5,"v":20.6,"s":"C"},{"t":155,"v":23.5,"s":"C"},{"t":155.5,"v":19.0,"s":"C"},{"t":156,"v":22.5,"s":"C"},{"t":156.3,"v":16.3,"s":"C"},{"t":156.8,"v":22.0,"s":"C"},{"t":157.3,"v":24.5,"s":"C"},{"t":157.8,"v":21.8,"s":"C"},{"t":158.3,"v":25.5,"s":"C"},{"t":158.8,"v":23.0,"s":"C"},{"t":159.3,"v":27.0,"s":"C"},{"t":159.8,"v":24.2,"s":"C"},{"t":160.3,"v":27.9,"s":"C"},{"t":160.8,"v":25.0,"s":"C"},{"t":161.3,"v":28.4,"s":"C"},{"t":161.8,"v":23.5,"s":"C"},{"t":162.3,"v":27.2,"s":"C"},{"t":162.8,"v":22.0,"s":"C"},{"t":163.3,"v":24.5,"s":"C"},{"t":163.8,"v":22.8,"s":"C"},{"t":164.3,"v":25.0,"s":"C"},{"t":164.6,"v":17.8,"s":"C"},{"t":165,"v":24.5,"s":"C"},{"t":165.5,"v":25.6,"s":"C"},{"t":166,"v":26.0,"s":"C"},{"t":166.7,"v":25.3,"s":"C"},{"t":167.5,"v":24.6,"s":"C"},{"t":168.3,"v":24.0,"s":"C"},{"t":169.3,"v":23.4,"s":"C"},{"t":170.5,"v":22.6,"s":"C"},{"t":171.8,"v":22.1,"s":"C"},{"t":173,"v":21.6,"s":"C"},{"t":174.1,"v":21.2,"s":"C"},{"t":175,"v":21.3,"s":"C"},{"t":175.5,"v":21.0,"s":"C"},{"t":176,"v":21.4,"s":"C"},{"t":176.5,"v":21.1,"s":"C"},{"t":177,"v":21.5,"s":"C"},{"t":177.5,"v":21.2,"s":"C"},{"t":178,"v":19.2,"s":"C"},{"t":178.5,"v":22.0,"s":"C"},{"t":179,"v":26.0,"s":"C"},
{"t":179.5,"v":28.0,"s":"C"},{"t":180,"v":26.8,"s":"C"},{"t":180.5,"v":28.8,"s":"C"},{"t":181,"v":27.5,"s":"C"},{"t":181.5,"v":30.5,"s":"C"},{"t":182,"v":28.0,"s":"C"},{"t":182.5,"v":31.0,"s":"C"},{"t":183,"v":29.0,"s":"C"},{"t":183.5,"v":31.8,"s":"C"},{"t":184,"v":29.5,"s":"C"},{"t":184.5,"v":32.5,"s":"C"},{"t":184.8,"v":33.6,"s":"C"},{"t":185.2,"v":30.5,"s":"C"},{"t":185.7,"v":32.2,"s":"C"},{"t":186.2,"v":29.5,"s":"C"},{"t":186.7,"v":31.5,"s":"C"},{"t":187.2,"v":28.5,"s":"C"},{"t":187.7,"v":30.5,"s":"C"},{"t":188.2,"v":28.2,"s":"C"},{"t":188.7,"v":29.8,"s":"C"},{"t":189.2,"v":27.8,"s":"C"},{"t":189.7,"v":29.5,"s":"C"},{"t":190.2,"v":27.5,"s":"C"},{"t":190.7,"v":29.0,"s":"C"},{"t":191.2,"v":27.2,"s":"C"},{"t":191.7,"v":28.6,"s":"C"},{"t":192.2,"v":26.8,"s":"C"},
{"t":192.5,"v":21.5,"s":"C"},{"t":192.75,"v":27.0,"s":"C"},{"t":193,"v":22.2,"s":"C"},{"t":193.25,"v":27.2,"s":"C"},{"t":193.5,"v":21.0,"s":"C"},{"t":193.75,"v":26.8,"s":"C"},{"t":194,"v":21.8,"s":"C"},{"t":194.25,"v":26.9,"s":"C"},{"t":194.5,"v":21.3,"s":"C"},{"t":194.75,"v":27.1,"s":"C"},{"t":195,"v":22.0,"s":"C"},{"t":195.25,"v":27.0,"s":"C"},{"t":195.5,"v":20.8,"s":"C"},{"t":195.75,"v":26.6,"s":"C"},{"t":196,"v":21.6,"s":"C"},{"t":196.25,"v":26.7,"s":"C"},{"t":196.5,"v":21.2,"s":"C"},{"t":196.75,"v":27.0,"s":"C"},{"t":197,"v":21.9,"s":"C"},{"t":197.25,"v":26.9,"s":"C"},{"t":197.5,"v":20.6,"s":"C"},{"t":197.75,"v":26.4,"s":"C"},{"t":198,"v":21.4,"s":"C"},{"t":198.25,"v":26.5,"s":"C"},{"t":198.5,"v":21.0,"s":"C"},{"t":198.75,"v":26.9,"s":"C"},{"t":199,"v":21.7,"s":"C"},{"t":199.25,"v":26.8,"s":"C"},{"t":199.5,"v":20.3,"s":"C"},{"t":199.75,"v":26.2,"s":"C"},{"t":200,"v":21.0,"s":"C"},{"t":200.25,"v":26.4,"s":"C"},{"t":200.5,"v":19.8,"s":"C"},{"t":200.75,"v":26.7,"s":"C"},{"t":201,"v":20.8,"s":"C"},{"t":201.25,"v":26.6,"s":"C"},{"t":201.5,"v":19.2,"s":"C"},{"t":201.75,"v":26.1,"s":"C"},{"t":202,"v":20.6,"s":"C"},{"t":202.25,"v":26.0,"s":"C"},{"t":202.5,"v":20.5,"s":"C"},{"t":202.75,"v":26.7,"s":"C"},{"t":203,"v":21.5,"s":"C"},{"t":203.25,"v":26.8,"s":"C"},
{"t":203.5,"v":22.0,"s":"C"},{"t":204,"v":27.5,"s":"C"},{"t":204.5,"v":25.5,"s":"C"},{"t":205,"v":28.7,"s":"C"},{"t":205.5,"v":26.5,"s":"C"},{"t":206,"v":28.5,"s":"C"},{"t":206.5,"v":26.8,"s":"C"},{"t":207,"v":29.0,"s":"C"},{"t":207.5,"v":27.2,"s":"C"},{"t":208,"v":29.5,"s":"C"},{"t":208.5,"v":27.5,"s":"C"},{"t":209,"v":30.0,"s":"C"},{"t":209.5,"v":31.5,"s":"C"},{"t":209.8,"v":32.3,"s":"C"},{"t":210.2,"v":28.5,"s":"C"},{"t":210.7,"v":30.8,"s":"C"},{"t":211.2,"v":27.5,"s":"C"},{"t":211.7,"v":29.8,"s":"C"},{"t":212.2,"v":27.0,"s":"C"},{"t":212.7,"v":29.0,"s":"C"},{"t":213.2,"v":26.5,"s":"C"},{"t":213.7,"v":28.2,"s":"C"},{"t":214.2,"v":26.0,"s":"C"},{"t":214.7,"v":27.8,"s":"C"},
{"t":215,"v":21.2,"s":"C"},{"t":215.25,"v":26.9,"s":"C"},{"t":215.5,"v":21.8,"s":"C"},{"t":215.75,"v":26.8,"s":"C"},{"t":216,"v":21.0,"s":"C"},{"t":216.25,"v":26.6,"s":"C"},{"t":216.5,"v":21.9,"s":"C"},{"t":216.75,"v":27.0,"s":"C"},{"t":217,"v":21.3,"s":"C"},{"t":217.25,"v":26.8,"s":"C"},{"t":217.5,"v":22.0,"s":"C"},{"t":217.75,"v":26.6,"s":"C"},{"t":218,"v":20.9,"s":"C"},{"t":218.25,"v":27.0,"s":"C"},{"t":218.5,"v":21.6,"s":"C"},{"t":218.75,"v":27.1,"s":"C"},{"t":219,"v":21.2,"s":"C"},{"t":219.25,"v":26.7,"s":"C"},{"t":219.5,"v":21.8,"s":"C"},{"t":219.75,"v":26.8,"s":"C"},{"t":220,"v":20.8,"s":"C"},{"t":220.25,"v":27.1,"s":"C"},{"t":220.5,"v":21.5,"s":"C"},{"t":220.75,"v":27.2,"s":"C"},{"t":221,"v":21.0,"s":"C"},{"t":221.25,"v":26.9,"s":"C"},{"t":221.5,"v":21.7,"s":"C"},{"t":221.75,"v":27.0,"s":"C"},{"t":222,"v":20.6,"s":"C"},{"t":222.25,"v":27.3,"s":"C"},{"t":222.5,"v":21.3,"s":"C"},{"t":222.75,"v":27.4,"s":"C"},{"t":223,"v":20.5,"s":"C"},{"t":223.25,"v":27.0,"s":"C"},{"t":223.5,"v":21.4,"s":"C"},{"t":223.75,"v":27.3,"s":"C"},{"t":224,"v":20.9,"s":"C"},{"t":224.25,"v":27.5,"s":"C"},{"t":224.5,"v":21.1,"s":"C"},{"t":224.75,"v":27.6,"s":"C"},{"t":225,"v":20.2,"s":"C"},{"t":225.25,"v":27.3,"s":"C"},{"t":225.5,"v":20.9,"s":"C"},{"t":225.75,"v":27.5,"s":"C"},{"t":226,"v":19.8,"s":"C"},{"t":226.25,"v":27.6,"s":"C"},{"t":226.5,"v":20.6,"s":"C"},{"t":226.75,"v":27.8,"s":"C"},{"t":227,"v":18.5,"s":"C"},{"t":227.25,"v":27.4,"s":"C"},{"t":227.5,"v":19.5,"s":"C"},{"t":227.75,"v":27.6,"s":"C"},{"t":228,"v":18.8,"s":"C"},{"t":228.25,"v":27.2,"s":"C"},{"t":228.5,"v":22.0,"s":"C"},
{"t":229,"v":26.5,"s":"C"},{"t":229.5,"v":28.5,"s":"C"},{"t":230,"v":26.8,"s":"C"},{"t":230.5,"v":29.5,"s":"C"},{"t":231,"v":27.5,"s":"C"},{"t":231.5,"v":30.0,"s":"C"},{"t":232,"v":28.2,"s":"C"},{"t":232.5,"v":30.8,"s":"C"},{"t":233,"v":28.8,"s":"C"},{"t":233.5,"v":30.2,"s":"C"},{"t":234,"v":27.8,"s":"C"},{"t":234.5,"v":29.5,"s":"C"},{"t":235,"v":27.0,"s":"C"},{"t":235.5,"v":28.6,"s":"C"},{"t":236,"v":26.5,"s":"C"},{"t":236.5,"v":28.2,"s":"C"},{"t":237,"v":26.2,"s":"C"},{"t":237.5,"v":27.8,"s":"C"},{"t":238,"v":26.8,"s":"C"},{"t":238.5,"v":27.5,"s":"C"},{"t":239,"v":26.0,"s":"C"},{"t":239.5,"v":27.2,"s":"C"},{"t":240,"v":25.8,"s":"C"},{"t":240.5,"v":23.0,"s":"C"},{"t":241,"v":25.5,"s":"C"},{"t":241.5,"v":21.2,"s":"C"},{"t":242,"v":22.5,"s":"C"},{"t":242.5,"v":21.0,"s":"C"},{"t":242.8,"v":25.8,"s":"C"}
 ]},
 "mark": {"type": "line", "strokeJoin": "round"},
 "encoding": {
  "x": {"field": "t", "type": "quantitative", "scale": {"domain": [0, 250], "nice": false, "zero": false},
        "axis": {"orient": "bottom", "values": [0, 50, 100, 150, 200, 250], "tickSize": -10, "labelPadding": 24, "title": "Time (hours)", "titlePadding": 16}},
  "y": {"field": "v", "type": "quantitative", "scale": {"domain": [15, 45], "nice": false, "zero": false},
        "axis": {"orient": "left", "values": [15, 20, 25, 30, 35, 40, 45], "tickSize": -10, "labelPadding": 24, "title": "Temperature (°C)", "titlePadding": 23}},
  "color": {"field": "s", "type": "nominal", "scale": {"domain": ["A", "C"], "range": ["#000000", "#dd0a0a"]},
        "legend": {"orient": "none", "legendX": 223, "legendY": 12, "title": null, "labelFont": "Liberation Sans", "labelFontSize": 20, "labelColor": "#000", "labelLimit": 0, "symbolType": "stroke", "symbolSize": 3844, "clipHeight": 19, "labelOffset": 3, "rowPadding": 0, "padding": 0, "labelExpr": "datum.value == 'A' ? 'Air temperature' : 'Canopy temperature'"}},
  "strokeWidth": {"field": "s", "type": "nominal", "scale": {"type": "ordinal", "domain": ["A", "C"], "range": [5.5, 1.3]},
        "legend": {"orient": "none", "legendX": 223, "legendY": 12, "title": null, "labelFont": "Liberation Sans", "labelFontSize": 20, "labelColor": "#000", "labelLimit": 0, "symbolType": "stroke", "symbolSize": 3844, "clipHeight": 19, "labelOffset": 3, "rowPadding": 0, "padding": 0, "labelExpr": "datum.value == 'A' ? 'Air temperature' : 'Canopy temperature'"}}
 }
},
{
 "data": {"values": [{}]},
 "mark": {"type": "point", "opacity": 0},
 "encoding": {
  "x": {"datum": 0, "type": "quantitative", "scale": {"domain": [0, 250], "nice": false, "zero": false},
        "axis": {"orient": "bottom", "values": [0,10,20,30,40,50,60,70,80,90,100,110,120,130,140,150,160,170,180,190,200,210,220,230,240,250], "tickSize": -6, "labels": false, "title": null}},
  "y": {"datum": 15, "type": "quantitative", "scale": {"domain": [15, 45], "nice": false, "zero": false},
        "axis": {"orient": "left", "values": [15,16,17,18,19,20,21,22,23,24,25,26,27,28,29,30,31,32,33,34,35,36,37,38,39,40,41,42,43,44,45], "tickSize": -6, "labels": false, "title": null}}
 }
},
{
 "data": {"values": [{}]},
 "mark": {"type": "point", "opacity": 0},
 "encoding": {
  "x": {"datum": 0, "type": "quantitative", "scale": {"domain": [0, 250], "nice": false, "zero": false},
        "axis": {"orient": "top", "values": [0, 50, 100, 150, 200, 250], "tickSize": -10, "labels": false, "title": null}},
  "y": {"datum": 15, "type": "quantitative", "scale": {"domain": [15, 45], "nice": false, "zero": false},
        "axis": {"orient": "right", "values": [15, 20, 25, 30, 35, 40, 45], "tickSize": -10, "labels": false, "title": null}}
 }
},
{
 "data": {"values": [{}]},
 "mark": {"type": "point", "opacity": 0},
 "encoding": {
  "x": {"datum": 0, "type": "quantitative", "scale": {"domain": [0, 250], "nice": false, "zero": false},
        "axis": {"orient": "top", "values": [0,10,20,30,40,50,60,70,80,90,100,110,120,130,140,150,160,170,180,190,200,210,220,230,240,250], "tickSize": -6, "labels": false, "title": null}},
  "y": {"datum": 15, "type": "quantitative", "scale": {"domain": [15, 45], "nice": false, "zero": false},
        "axis": {"orient": "right", "values": [15,16,17,18,19,20,21,22,23,24,25,26,27,28,29,30,31,32,33,34,35,36,37,38,39,40,41,42,43,44,45], "tickSize": -6, "labels": false, "title": null}}
 }
}
]
}
